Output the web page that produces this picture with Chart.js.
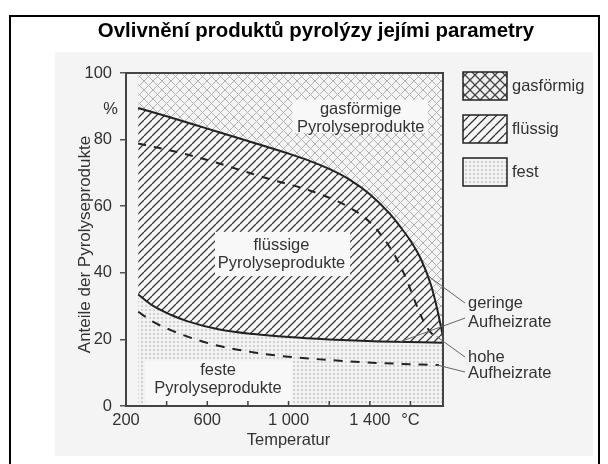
<!DOCTYPE html>
<html>
<head>
<meta charset="utf-8">
<title>Ovlivnění produktů pyrolýzy jejími parametry</title>
<script src="https://cdn.jsdelivr.net/npm/chart.js@4.4.1/dist/chart.umd.min.js"></script>
<style>
  html, body { margin: 0; padding: 0; background: #fff; }
  #wrap { width: 608px; height: 464px; }
</style>
</head>
<body>
<div id="wrap"><canvas id="chart" width="608" height="464"></canvas></div>
<script>
// Data (temperature in °C, share in %)
const chartTitle = 'Ovlivnění produktů pyrolýzy jejími parametry';
const xTicks = [200, 400, 600, 800, 1000, 1200, 1400, 1600];
const xTickLabels = ['200', '', '600', '', '1 000', '', '1 400', '°C'];
const yTicks = [0, 20, 40, 60, 80, 100];
const legendLabels = ['gasförmig', 'flüssig', 'fest'];

// solid lines: low heating rate
const upperSolidT = [260, 400, 600, 800, 1000, 1100, 1200, 1300, 1400, 1500, 1550, 1600, 1650, 1700, 1730, 1760];
const upperSolidV = [89.5, 87.0, 83.3, 79.6, 75.8, 73.7, 71.2, 68.0, 63.6, 57.6, 53.8, 49.6, 44.3, 36.5, 29.5, 20.8];
const lowerSolidT = [260, 330, 420, 500, 660, 830, 1000, 1200, 1450, 1760];
const lowerSolidV = [33.5, 30.2, 27.4, 25.5, 23.0, 21.6, 20.7, 20.0, 19.4, 19.0];

// dashed lines: high heating rate
const upperDashedT = [260, 450, 600, 760, 920, 1090, 1240, 1330, 1400, 1465, 1525, 1560, 1590, 1625, 1660, 1690, 1720];
const upperDashedV = [78.8, 76.3, 73.9, 70.9, 67.9, 65.0, 61.5, 58.5, 55.2, 50.6, 45.0, 40.8, 36.5, 31.0, 26.0, 22.8, 20.8];
const lowerDashedT = [260, 330, 420, 500, 580, 660, 750, 830, 910, 1000, 1200, 1450, 1740];
const lowerDashedV = [28.3, 25.4, 22.8, 20.9, 19.3, 18.0, 16.9, 16.1, 15.4, 14.8, 13.8, 12.9, 12.3];

const FONT = '"Liberation Sans", Arial, sans-serif';
const TEXT = '#333';

const chartEl = document.getElementById('chart');
const ctx0 = chartEl.getContext('2d');

const pts = (xs, ys) => xs.map((x, i) => ({ x: x, y: ys[i] }));

// Fill patterns
function tile(size, bg, draw) {
    const c = document.createElement('canvas');
    c.width = size;
    c.height = size;
    const g = c.getContext('2d');
    g.fillStyle = bg;
    g.fillRect(0, 0, size, size);
    draw(g, size);
    return ctx0.createPattern(c, 'repeat');
}

function slashes(g, s, color, lw) {
    g.strokeStyle = color;
    g.lineWidth = lw;
    g.beginPath();
    [-s, 0, s].forEach(o => { g.moveTo(o, s); g.lineTo(o + s, 0); });
    g.stroke();
}

function backslashes(g, s, color, lw) {
    g.strokeStyle = color;
    g.lineWidth = lw;
    g.beginPath();
    [-s, 0, s].forEach(o => { g.moveTo(o, 0); g.lineTo(o + s, s); });
    g.stroke();
}

function dots(g, color) {
    g.fillStyle = color;
    g.fillRect(1, 1, 2, 2);
}

const gasFill = tile(9, '#f4f4f4', (g, s) => { slashes(g, s, '#b2b2b2', 1); backslashes(g, s, '#b2b2b2', 1); });
const liquidFill = tile(8, '#f6f6f6', (g, s) => slashes(g, s, '#3a3a3a', 1.3));
const solidFill = tile(4, '#f3f3f3', g => dots(g, '#d0d0d0'));
const keyFills = [
    tile(10, '#f0f0f0', (g, s) => { slashes(g, s, '#444', 1.3); backslashes(g, s, '#444', 1.3); }),
    tile(9, '#f6f6f6', (g, s) => slashes(g, s, '#333', 1.3)),
    tile(4, '#f3f3f3', g => dots(g, '#cfcfcf'))
];

// Labels placed in data units (temperature, %)
const regionNotes = [
    { lines: ['gasförmige', 'Pyrolyseprodukte'], at: [1355, 86.3], box: [1020, 1685, 92, 82] },
    { lines: ['flüssige', 'Pyrolyseprodukte'], at: [965, 45.6], box: [638, 1303, 52.3, 39] },
    { lines: ['feste', 'Pyrolyseprodukte'], at: [653, 8.1], box: [294, 1018, 13.5, 0] }
];
const rateNotes = [
    { text: 'geringe', at: 30.9, from: 30.9, to: [1688, 39] },
    { text: 'Aufheizrate', at: 25.2, from: 26.4, to: [1550, 19.3] },
    { text: 'hohe', at: 14.7, from: 14.7, to: [1728, 20.9] },
    { text: 'Aufheizrate', at: 9.9, from: 10.2, to: [1732, 12.3] }
];

const decor = {
    id: 'decor',
    beforeDraw(chart) {
        const { ctx, width, height } = chart;
        ctx.save();
        ctx.fillStyle = '#fff';
        ctx.fillRect(0, 0, width, height);
        ctx.fillStyle = '#f4f4f4';
        ctx.fillRect(55, 52, 538, 404);
        ctx.fillStyle = '#000';
        ctx.font = 'bold 20.4px ' + FONT;
        ctx.textAlign = 'center';
        ctx.textBaseline = 'middle';
        ctx.fillText(chartTitle, 316, 31);
        ctx.strokeStyle = '#000';
        ctx.lineWidth = 2;
        ctx.strokeRect(10, 16, 589, 470);
        ctx.restore();
    },
    afterDatasetsDraw(chart) {
        const { ctx, chartArea: a } = chart;
        const x = chart.scales.x, y = chart.scales.y;
        ctx.save();
        ctx.font = '16.5px ' + FONT;
        ctx.textBaseline = 'middle';

        // region labels on plain paper
        ctx.textAlign = 'center';
        regionNotes.forEach(n => {
            const x0 = x.getPixelForValue(n.box[0]), x1 = x.getPixelForValue(n.box[1]);
            const y0 = y.getPixelForValue(n.box[2]), y1 = y.getPixelForValue(n.box[3]);
            ctx.fillStyle = '#f8f8f8';
            ctx.fillRect(x0, y0, x1 - x0, y1 - y0);
            const cx = x.getPixelForValue(n.at[0]), cy = y.getPixelForValue(n.at[1]);
            ctx.fillStyle = TEXT;
            ctx.fillText(n.lines[0], cx, cy - 9);
            ctx.fillText(n.lines[1], cx, cy + 9);
        });

        // plot frame and inward x ticks
        ctx.strokeStyle = '#444';
        ctx.lineWidth = 2;
        ctx.strokeRect(a.left, a.top, a.right - a.left, a.bottom - a.top);
        ctx.lineWidth = 1.5;
        ctx.beginPath();
        xTicks.slice(1).forEach(v => {
            const px = x.getPixelForValue(v);
            ctx.moveTo(px, a.bottom);
            ctx.lineTo(px, a.bottom - 5);
        });
        ctx.stroke();

        // unit and axis titles
        ctx.fillStyle = TEXT;
        ctx.textAlign = 'right';
        ctx.fillText('%', 118, y.getPixelForValue(89));
        ctx.textAlign = 'center';
        ctx.fillText('Temperatur', (a.left + a.right) / 2 + 4, 440);
        ctx.save();
        ctx.translate(85, (a.top + a.bottom) / 2 + 5);
        ctx.rotate(-Math.PI / 2);
        ctx.font = '17px ' + FONT;
        ctx.fillText('Anteile der Pyrolyseprodukte', 0, 0);
        ctx.restore();

        // legend
        legendLabels.forEach((label, i) => {
            const bx = a.right + 20, by = a.top - 1 + i * 43;
            ctx.fillStyle = keyFills[i];
            ctx.fillRect(bx, by, 44, 28);
            ctx.strokeStyle = '#222';
            ctx.lineWidth = 1.5;
            ctx.strokeRect(bx, by, 44, 28);
            ctx.fillStyle = TEXT;
            ctx.textAlign = 'left';
            ctx.fillText(label, bx + 49, by + 14);
        });

        // heating rate notes with leader lines
        ctx.strokeStyle = '#666';
        ctx.lineWidth = 1;
        rateNotes.forEach(n => {
            ctx.beginPath();
            ctx.moveTo(a.right + 22, y.getPixelForValue(n.from));
            ctx.lineTo(x.getPixelForValue(n.to[0]), y.getPixelForValue(n.to[1]));
            ctx.stroke();
            ctx.fillStyle = TEXT;
            ctx.textAlign = 'left';
            ctx.fillText(n.text, a.right + 25, y.getPixelForValue(n.at));
        });
        ctx.restore();
    }
};

const lineStyle = { borderColor: '#222', borderWidth: 2, pointRadius: 0, cubicInterpolationMode: 'monotone' };

new Chart(chartEl, {
    type: 'line',
    data: {
        datasets: [
            Object.assign({ label: 'gasförmig', data: pts(upperSolidT, upperSolidV), fill: 'end', backgroundColor: gasFill }, lineStyle),
            Object.assign({ label: 'flüssig', data: pts(lowerSolidT, lowerSolidV), fill: '-1', backgroundColor: liquidFill }, lineStyle),
            Object.assign({ label: 'fest', data: pts(lowerSolidT, lowerSolidV), fill: 'origin', backgroundColor: solidFill }, lineStyle, { borderWidth: 0 }),
            Object.assign({ label: 'hohe 1', data: pts(upperDashedT, upperDashedV), fill: false, borderDash: [8, 8] }, lineStyle),
            Object.assign({ label: 'hohe 2', data: pts(lowerDashedT, lowerDashedV), fill: false, borderDash: [9, 8] }, lineStyle)
        ]
    },
    options: {
        responsive: false,
        animation: false,
        layout: { padding: { left: 0, top: 73, right: 165, bottom: 18 } },
        plugins: {
            legend: { display: false },
            title: { display: false },
            tooltip: { enabled: false },
            filler: { propagate: false, drawTime: 'beforeDatasetsDraw' }
        },
        scales: {
            x: {
                type: 'linear',
                min: 200,
                max: 1760,
                afterFit: s => { s.height = 40; },
                afterBuildTicks: s => { s.ticks = xTicks.map(v => ({ value: v })); },
                ticks: {
                    autoSkip: false,
                    maxRotation: 0,
                    padding: 5,
                    color: TEXT,
                    font: { family: FONT, size: 16.5 },
                    callback: v => xTickLabels[xTicks.indexOf(v)]
                },
                grid: { display: false, drawTicks: false },
                border: { display: false }
            },
            y: {
                min: 0,
                max: 100,
                afterFit: s => { s.width = 126; },
                afterBuildTicks: s => { s.ticks = yTicks.map(v => ({ value: v })); },
                ticks: { padding: 8, color: TEXT, font: { family: FONT, size: 16.5 } },
                grid: { drawOnChartArea: false, drawTicks: true, tickLength: 6, color: '#555', lineWidth: 1.5 },
                border: { display: false }
            }
        }
    },
    plugins: [decor]
});
</script>
</body>
</html>
